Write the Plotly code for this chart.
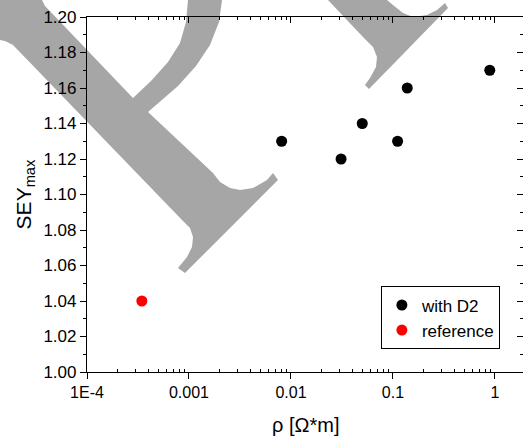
import plotly.graph_objects as go

# ---- data ----
rho_d2 = [0.0081, 0.031, 0.050, 0.111, 0.138, 0.89]
sey_d2 = [1.13, 1.12, 1.14, 1.13, 1.16, 1.17]
rho_ref = [3.45e-4]
sey_ref = [1.04]

x_tickvals = [1e-4, 1e-3, 1e-2, 1e-1, 1]
x_ticktext = ["1E-4", "0.001", "0.01", "0.1", "1"]
x_minor = [k * 10.0 ** e for e in range(-4, 1) for k in range(2, 10) if k * 10.0 ** e < 1.88]

W, H = 523, 439
L, T, B = 87, 17, 67
FONT = "Liberation Sans, Arial, sans-serif"

# decorative watermark outline (pixel coordinates of the page)
wm_a = [(0, 0), (42, 0), (45, 6), (133, 98), (152, 80), (168, 62), (180, 43), (186, 22), (188, 0),
        (222, 0), (219, 22), (210, 45), (196, 66), (178, 86), (148, 112), (213, 173), (220, 182),
        (230, 188), (240, 190), (253, 188), (267, 180), (273, 173), (278, 180), (185, 273),
        (178, 268), (187, 257), (192, 247), (193, 237), (190, 228), (182, 220), (13, 45),
        (5, 41), (0, 40)]
wm_b = [(328, 0), (363, 37), (373, 47), (377, 57), (376, 67), (370, 78), (365, 85), (369, 89),
        (448, 8), (445, 3), (437, 10), (427, 15), (413, 17), (403, 13), (393, 5), (387, 0)]


def to_paper(pts):
    pw, ph = W - L, H - T - B
    s = []
    for i, (x, y) in enumerate(pts):
        px = (x - L) / pw
        py = (H - B - y) / ph
        s.append(("M" if i == 0 else "L") + f"{px:.5f},{py:.5f}")
    return " ".join(s) + " Z"


fig = go.Figure()
fig.add_trace(go.Scatter(x=rho_d2, y=sey_d2, mode="markers", name="with D2",
                         marker=dict(color="black", size=11)))
fig.add_trace(go.Scatter(x=rho_ref, y=sey_ref, mode="markers", name="reference",
                         marker=dict(color="red", size=11)))
# invisible trace to instantiate the mirrored top/right axes
fig.add_trace(go.Scatter(x=rho_ref, y=sey_ref, xaxis="x2", yaxis="y2", mode="markers",
                         marker=dict(opacity=0), showlegend=False, hoverinfo="skip"))

for pts in (wm_a, wm_b):
    fig.add_shape(type="path", path=to_paper(pts), xref="paper", yref="paper",
                  fillcolor="#a6a6a6", line=dict(width=0), layer="below")

# x-axis title placed as an annotation below the tick labels
fig.add_annotation(text="ρ [Ω*m]", xref="paper", yref="paper", x=0.5, y=-0.15,
                   xanchor="center", yanchor="middle", showarrow=False,
                   font=dict(size=20, family=FONT, color="black"))

fig.update_layout(
    width=W, height=H,
    margin=dict(l=L, r=0, t=T, b=B),
    paper_bgcolor="white", plot_bgcolor="rgba(0,0,0,0)",
    font=dict(family=FONT, color="black"),
    showlegend=True,
    legend=dict(x=0.947, y=0.241, xanchor="right", yanchor="top",
                bordercolor="black", borderwidth=1, bgcolor="white",
                font=dict(size=17, family=FONT), tracegroupgap=0),
    xaxis=dict(type="log", range=[-4, 0.275], showgrid=False, zeroline=False,
               showline=True, linecolor="black", linewidth=1.2,
               ticks="outside", ticklen=6, tickwidth=1.2, tickcolor="black",
               tickvals=x_tickvals, ticktext=x_ticktext,
               tickfont=dict(size=16, family=FONT),
               minor=dict(tickvals=x_minor, ticks="inside", ticklen=3, tickcolor="black",
                          showgrid=False)),
    yaxis=dict(range=[1.0, 1.2], showgrid=False, zeroline=False,
               showline=True, linecolor="black", linewidth=1.2,
               ticks="outside", ticklen=6, tickwidth=1.2, tickcolor="black",
               tick0=1.0, dtick=0.02, tickformat=".2f",
               tickfont=dict(size=17, family=FONT),
               minor=dict(dtick=0.01, ticks="outside", ticklen=3, tickcolor="black",
                          showgrid=False),
               title=dict(text="SEY<sub>max</sub>", font=dict(size=21, family=FONT), standoff=6)),
    xaxis2=dict(type="log", overlaying="x", side="top", matches="x", anchor="y",
                showgrid=False, zeroline=False, showline=True, linecolor="black", linewidth=1.2,
                ticks="inside", ticklen=6, tickwidth=1.2, tickcolor="black",
                tickvals=x_tickvals, showticklabels=False,
                minor=dict(tickvals=x_minor, ticks="inside", ticklen=3, tickcolor="black",
                           showgrid=False)),
    yaxis2=dict(overlaying="y", side="right", matches="y", anchor="x",
                showgrid=False, zeroline=False, showline=False,
                ticks="inside", ticklen=6, tickwidth=1.2, tickcolor="black",
                tick0=1.0, dtick=0.02, showticklabels=False,
                minor=dict(dtick=0.01, ticks="inside", ticklen=3, tickcolor="black",
                           showgrid=False)),
)

fig.write_html("out.html")
